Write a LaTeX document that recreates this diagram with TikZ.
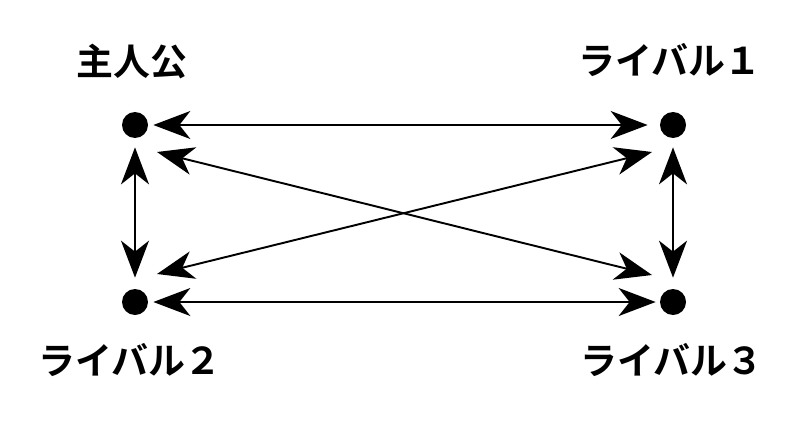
\documentclass[tikz,border=0pt]{standalone}
\usepackage{fontspec}
\newfontfamily\jpfont{Noto Sans CJK JP}[BoldFont={* Bold}]
\usetikzlibrary{arrows.meta,positioning,calc}

\begin{document}
\begin{tikzpicture}[
  every node/.style={font=\jpfont\bfseries\fontsize{21pt}{25pt}\selectfont},
  dotnode/.style={circle, fill=black, minimum size=0.52cm, inner sep=0pt},
  namelabel/.style={inner sep=0pt},
  link/.style={{Stealth[length=0.74cm, width=0.56cm, inset=0.22cm]}-{Stealth[length=0.74cm, width=0.56cm, inset=0.22cm]}, line width=1.1pt},
]
\useasboundingbox (0,0) rectangle (16,8.74);

% ---- Characters ----
\node[dotnode] (hero) at (2.70,6.24) {};
\node[dotnode] (rivalone) at (13.46,6.24) {};
\node[dotnode] (rivaltwo) at (2.70,2.70) {};
\node[dotnode] (rivalthree) at (13.46,2.70) {};

% ---- Names ----
\node[namelabel] (heroname) at ([xshift=-0.06cm, yshift=1.26cm]hero) {主人公};
\node[namelabel] (rivalonename) at ([xshift=-0.06cm, yshift=1.30cm]rivalone) {ライバル１};
\node[namelabel] (rivaltwoname) at ([xshift=-0.10cm, yshift=-1.16cm]rivaltwo) {ライバル２};
\node[namelabel] (rivalthreename) at ([xshift=-0.02cm, yshift=-1.16cm]rivalthree) {ライバル３};

% ---- Diagonal ends (offset from the dots) ----
\coordinate (heroX) at ($(hero)+(0.44,-0.54)$);
\coordinate (rivaloneX) at ($(rivalone)+(-0.42,-0.54)$);
\coordinate (rivaltwoX) at ($(rivaltwo)+(0.44,0.56)$);
\coordinate (rivalthreeX) at ($(rivalthree)+(-0.42,0.54)$);

% ---- Relations ----
\draw[link, shorten <=0.10cm, shorten >=0.24cm] (hero) -- (rivalone);
\draw[link, shorten <=0.10cm, shorten >=0.08cm] (rivaltwo) -- (rivalthree);
\draw[link, shorten <=0.18cm, shorten >=0.22cm] (hero) -- (rivaltwo);
\draw[link, shorten <=0.18cm, shorten >=0.22cm] (rivalone) -- (rivalthree);
\draw[link] (heroX) -- (rivalthreeX);
\draw[link] (rivaltwoX) -- (rivaloneX);

\end{tikzpicture}
\end{document}
